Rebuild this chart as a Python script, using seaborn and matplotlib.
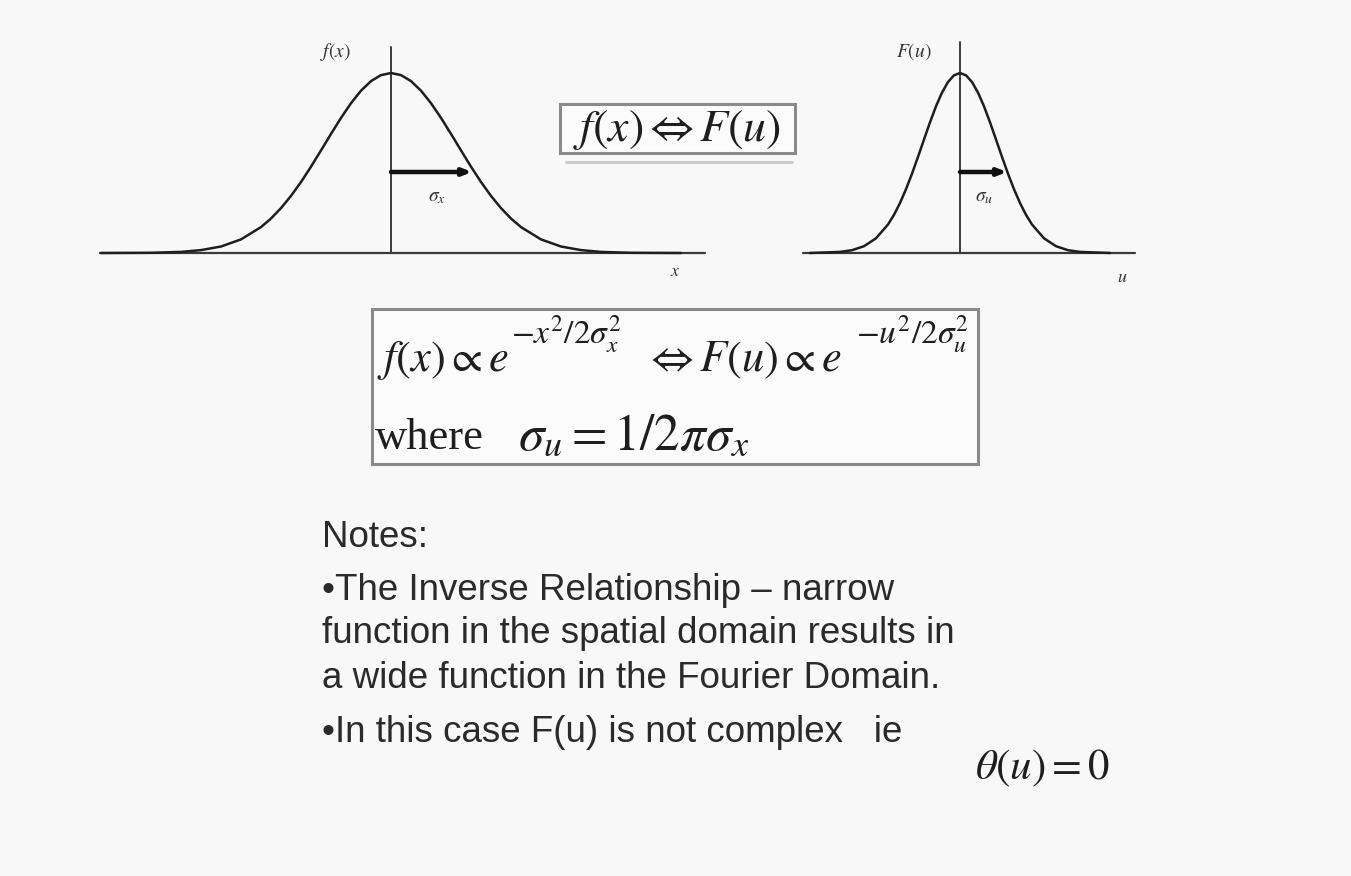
import matplotlib
matplotlib.use("Agg")
import matplotlib.pyplot as plt
import seaborn as sns
import pandas as pd
from matplotlib.patches import Rectangle

# curve samples (offset from centre axis, height above baseline, in px)
left_x = [-290, -240, -210, -190, -170, -150, -130, -120, -110, -100, -90, -80, -70, -60, -50,
          -40, -30, -20, -10, 0, 10, 20, 30, 40, 50, 60, 70, 80, 90, 100, 110, 120, 130, 150,
          170, 190, 210, 240, 290]
left_y = [0, 0.2, 1.1, 2.9, 6.5, 13.6, 25.9, 34.5, 44.9, 57.1, 71.0, 86.3, 102.6, 119.1, 135.1,
          149.8, 162.3, 171.9, 177.9, 180, 177.9, 171.9, 162.3, 149.8, 135.1, 119.1, 102.6, 86.3,
          71.0, 57.1, 44.9, 34.5, 25.9, 13.6, 6.5, 2.9, 1.1, 0.2, 0]
right_x = [-150, -120, -108, -96, -84, -72, -66, -60, -54, -48, -42, -36, -30, -24, -18, -12, -6,
           0, 6, 12, 18, 24, 30, 36, 42, 48, 54, 60, 66, 72, 84, 96, 108, 120, 150]
right_y = [0, 1.1, 2.8, 6.8, 14.7, 28.5, 38.2, 50.0, 63.8, 79.3, 96.1, 113.5, 130.7, 146.7, 160.4,
           171.0, 177.7, 180, 177.7, 171.0, 160.4, 146.7, 130.7, 113.5, 96.1, 79.3, 63.8, 50.0,
           38.2, 28.5, 14.7, 6.8, 2.8, 1.1, 0]

left_sigma_end = 81
right_sigma_end = 47
sigma_height = 81

notes_lines = [
    "Notes:",
    "\u2022The Inverse Relationship \u2013 narrow",
    "function in the spatial domain results in",
    "a wide function in the Fourier Domain.",
    "\u2022In this case F(u) is not complex   ie",
]

W, H = 1351, 876
BG = "#f8f8f8"
INK = "#1e1e1e"

sns.set_style("white")
plt.rcParams["mathtext.fontset"] = "stix"
plt.rcParams["font.family"] = ["Liberation Serif", "DejaVu Serif"]

fig = plt.figure(figsize=(W / 100, H / 100), dpi=100, facecolor=BG)


def fx(px):
    return px / W


def fy(py):
    return 1 - py / H


def curve_axes(x0, x1, y0, y1, cx, base):
    ax = fig.add_axes([fx(x0), fy(y1), fx(x1) - fx(x0), (y1 - y0) / H])
    ax.set_xlim(x0 - cx, x1 - cx)
    ax.set_ylim(base - y1, base - y0)
    ax.set_axis_off()
    ax.patch.set_alpha(0)
    return ax


arrow = dict(arrowstyle="-|>,head_length=0.5,head_width=0.2", lw=3.2, color="#111",
             shrinkA=0, shrinkB=0)

# left plot: f(x)
axl = curve_axes(95, 715, 30, 290, 391, 253)
axl.plot([-291, 314], [0, 0], color="#3a3a3a", lw=1.6)
axl.plot([0, 0], [0, 206], color="#3a3a3a", lw=1.4)
sns.lineplot(data=pd.DataFrame({"x": left_x, "y": left_y}), x="x", y="y", ax=axl,
             color=INK, lw=1.8, sort=False)
axl.annotate("", xy=(left_sigma_end, sigma_height), xytext=(0, sigma_height), arrowprops=arrow)
axl.text(-56, 201, "$f(x)$", fontsize=14, ha="center", va="center", color="#333")
axl.text(284, -19, "$x$", fontsize=13, ha="center", va="center", color="#333")
axl.text(46, 55, r"$\sigma_x$", fontsize=14, ha="center", va="center", color="#333")

# right plot: F(u)
axr = curve_axes(795, 1145, 30, 290, 960, 253)
axr.plot([-157, 175], [0, 0], color="#3a3a3a", lw=1.6)
axr.plot([0, 0], [0, 211], color="#3a3a3a", lw=1.4)
sns.lineplot(data=pd.DataFrame({"x": right_x, "y": right_y}), x="x", y="y", ax=axr,
             color=INK, lw=1.8, sort=False)
axr.annotate("", xy=(right_sigma_end, sigma_height), xytext=(0, sigma_height), arrowprops=arrow)
axr.text(-46, 201, "$F(u)$", fontsize=14, ha="center", va="center", color="#333")
axr.text(162, -24, "$u$", fontsize=13, ha="center", va="center", color="#333")
axr.text(24, 55, r"$\sigma_u$", fontsize=14, ha="center", va="center", color="#333")

# formula boxes (light shadow line under the small one)
fig.add_artist(plt.Line2D([fx(566), fx(792)], [fy(162), fy(162)], color="#c8c8c8", lw=2))
for (x0, y0, x1, y1) in [(560, 104, 795, 153), (372, 309, 978, 464)]:
    fig.patches.append(Rectangle((fx(x0), fy(y1)), fx(x1) - fx(x0), (y1 - y0) / H,
                                 transform=fig.transFigure, fill=True, facecolor="#fbfbfb",
                                 edgecolor="#8a8a8a", lw=2.2))

fig.text(fx(677), fy(130), r"$f(x)\Leftrightarrow F(u)$", fontsize=33, ha="center",
         va="center", color=INK)

# first formula line, exponents set as separate raised pieces
fig.text(fx(377), fy(360), r"$f(x)\propto e$", fontsize=32, ha="left", va="center", color=INK)
fig.text(fx(511), fy(334), r"$-x^2/2\sigma_x^2$", fontsize=24, ha="left", va="center", color=INK)
fig.text(fx(645), fy(360), r"$\Leftrightarrow F(u)\propto e$", fontsize=32, ha="left",
         va="center", color=INK)
fig.text(fx(856), fy(334), r"$-u^2/2\sigma_u^2$", fontsize=24, ha="left", va="center", color=INK)

fig.text(fx(375), fy(438), "where", fontsize=32, ha="left", va="center", color=INK)
fig.text(fx(518), fy(438), r"$\sigma_u=1/2\pi\sigma_x$", fontsize=37, ha="left", va="center",
         color=INK)

# notes
note_base = [547, 600, 643, 688, 742]
for line, y in zip(notes_lines, note_base):
    fig.text(fx(322), fy(y), line, fontsize=26.5, ha="left", va="baseline", color="#2a2a2a",
             family=["Liberation Sans", "DejaVu Sans"])
fig.text(fx(1043), fy(768), r"$\theta(u)=0$", fontsize=31, ha="center", va="center", color=INK)

fig.savefig("out.png", dpi=100, facecolor=BG)
